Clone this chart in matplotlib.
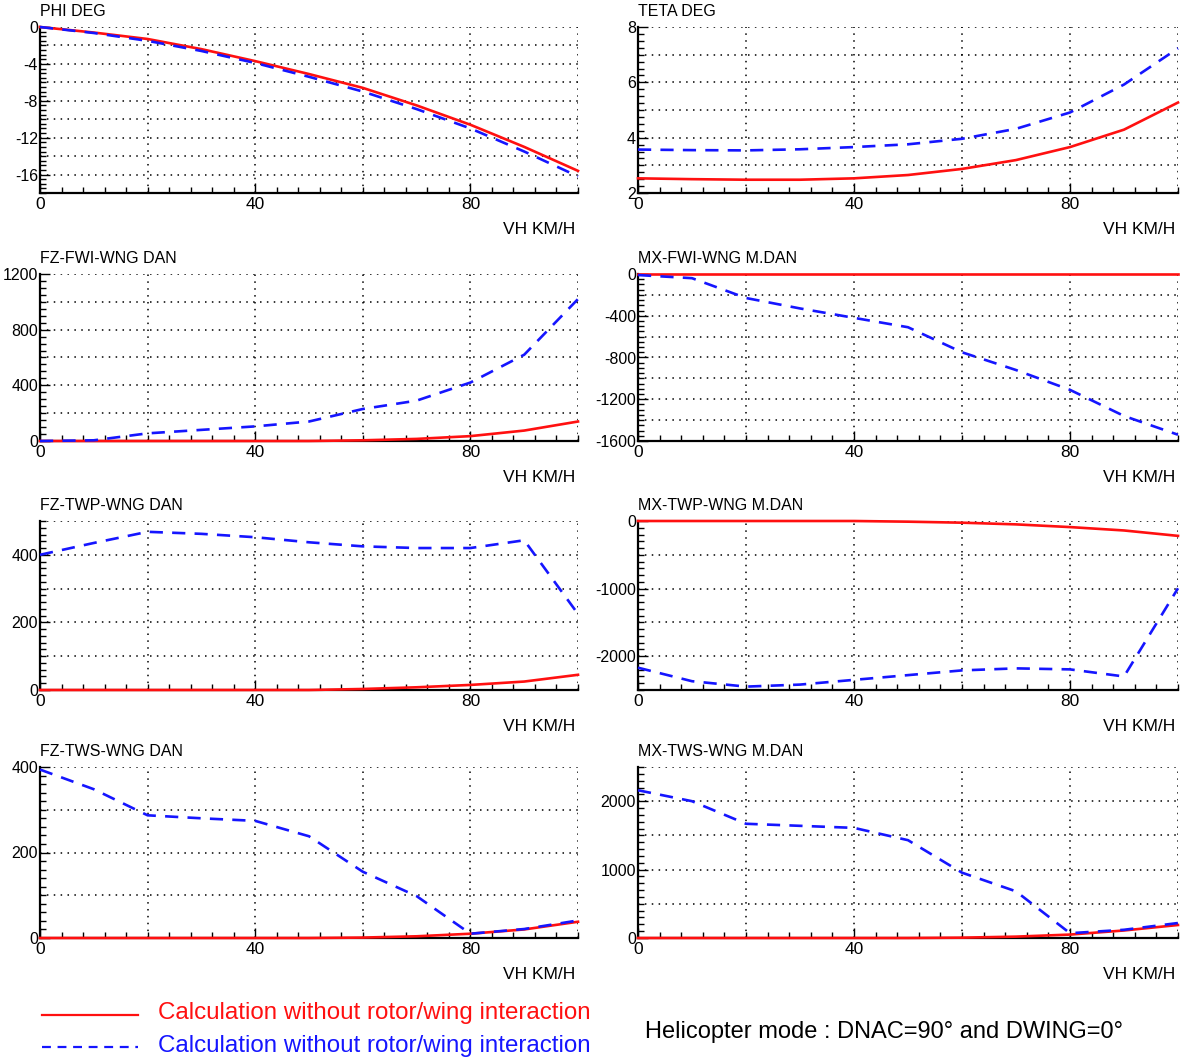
import matplotlib
matplotlib.use('Agg')
import matplotlib.pyplot as plt
from matplotlib.lines import Line2D
import numpy as np

plt.rcParams['font.family'] = ['Liberation Sans', 'DejaVu Sans']
plt.rcParams['axes.unicode_minus'] = False

# helicopter speed, km/h
vh = [0, 10, 20, 30, 40, 50, 60, 70, 80, 90, 100]

# roll / pitch attitude, deg
phi_no = [0, -0.6, -1.3, -2.4, -3.7, -5.1, -6.6, -8.5, -10.6, -13.0, -15.6]
phi_int = [0, -0.65, -1.5, -2.6, -3.9, -5.4, -7.0, -8.9, -11.0, -13.5, -16.2]
teta_no = [2.53, 2.50, 2.48, 2.48, 2.53, 2.65, 2.87, 3.19, 3.66, 4.29, 5.27]
teta_int = [3.57, 3.55, 3.54, 3.58, 3.66, 3.76, 3.96, 4.32, 4.91, 5.92, 7.23]

# front wing
fz_fwi_no = [0, 0, 0, 0, 0, 0, 5, 15, 35, 75, 140]
fz_fwi_int = [0, 5, 55, 80, 105, 140, 230, 290, 420, 620, 1020]
mx_fwi_no = [0, 0, 0, 0, 0, 0, 0, 0, 0, 0, 0]
mx_fwi_int = [-10, -40, -230, -330, -420, -510, -750, -920, -1110, -1360, -1540]

# tilting wing part
fz_twp_no = [0, 0, 0, 0, 0, 0, 3, 8, 15, 25, 45]
fz_twp_int = [400, 435, 468, 462, 452, 437, 425, 420, 420, 443, 225]
mx_twp_no = [0, 0, 0, 0, 0, -10, -25, -50, -90, -140, -220]
mx_twp_int = [-2170, -2370, -2450, -2420, -2350, -2280, -2210, -2180, -2195, -2300, -995]

# tilting wing, starboard side
fz_tws_no = [0, 0, 0, 0, 0, 0, 1, 4, 10, 20, 38]
fz_tws_int = [394, 348, 287, 280, 274, 238, 155, 98, 10, 21, 41]
mx_tws_no = [0, 0, 0, 0, 0, 0, 5, 20, 50, 110, 190]
mx_tws_int = [2160, 2000, 1670, 1640, 1610, 1430, 955, 682, 70, 120, 219]

panels = [
    ('PHI DEG', phi_no, phi_int, (-18, 0), [0, -4, -8, -12, -16], 2, 0.5),
    ('TETA DEG', teta_no, teta_int, (2, 8), [2, 4, 6, 8], 1, 0.25),
    ('FZ-FWI-WNG DAN', fz_fwi_no, fz_fwi_int, (0, 1200), [0, 400, 800, 1200], 200, 50),
    ('MX-FWI-WNG M.DAN', mx_fwi_no, mx_fwi_int, (-1600, 0), [0, -400, -800, -1200, -1600], 200, 50),
    ('FZ-TWP-WNG DAN', fz_twp_no, fz_twp_int, (0, 500), [0, 200, 400], 100, 20),
    ('MX-TWP-WNG M.DAN', mx_twp_no, mx_twp_int, (-2500, 0), [0, -1000, -2000], 500, 100),
    ('FZ-TWS-WNG DAN', fz_tws_no, fz_tws_int, (0, 400), [0, 200, 400], 100, 20),
    ('MX-TWS-WNG M.DAN', mx_tws_no, mx_tws_int, (0, 2500), [0, 1000, 2000], 500, 100),
]

W, H = 1180, 1063
fig = plt.figure(figsize=(W / 100, H / 100), dpi=100)

col_x = [40, 638]
rows = [(27, 193), (274, 441), (521, 690), (767, 938)]
ax_w = [538, 540]

for i, (name, red, blue, ylim, yt, gstep, mstep) in enumerate(panels):
    r, c = divmod(i, 2)
    top, bot = rows[r]
    ax = fig.add_axes([col_x[c] / W, 1 - bot / H, ax_w[c] / W, (bot - top) / H])

    # grid first so curves sit on top
    for gx in range(20, 101, 20):
        ax.axvline(gx, color='black', lw=1.1, ls=(0, (1, 3.5)), zorder=1)
    for gy in np.arange(ylim[0] + gstep, ylim[1] + gstep / 2, gstep):
        ax.axhline(gy, color='black', lw=1.1, ls=(0, (1, 3.5)), zorder=1)

    ax.plot(vh, red, color='#ff1010', lw=1.9, zorder=3, clip_on=False)
    ax.plot(vh, blue, color='#1515ff', lw=1.9, ls=(0, (5, 3.5)), zorder=4, clip_on=False)

    ax.set_xlim(0, 100)
    ax.set_ylim(*ylim)
    ax.set_xticks([0, 40, 80])
    ax.set_xticks(np.arange(0, 101, 4), minor=True)
    ax.set_yticks(yt)
    ax.set_yticklabels([str(v) for v in yt])
    ax.set_yticks(np.arange(ylim[0], ylim[1] + mstep / 2, mstep), minor=True)

    ax.tick_params(which='both', direction='in', color='black', width=1.0)
    ax.tick_params(which='major', length=7, labelsize=12.5, pad=3)
    ax.tick_params(axis='y', which='major', labelsize=11.5, pad=1.5)
    ax.tick_params(which='minor', length=4)

    for s in ['top', 'right']:
        ax.spines[s].set_visible(False)
    for s in ['left', 'bottom']:
        ax.spines[s].set_linewidth(1.6)

    ax.annotate(name, xy=(0, 1), xycoords='axes fraction', xytext=(0, 6),
                textcoords='offset points', ha='left', va='bottom', fontsize=11.5)
    ax.annotate('VH KM/H', xy=(1, 0), xycoords='axes fraction', xytext=(-2, -21),
                textcoords='offset points', ha='right', va='top', fontsize=12.5)

# legend block
fig.add_artist(Line2D([42 / W, 138 / W], [1 - 1015 / H] * 2, transform=fig.transFigure,
                      color='#ff1010', lw=1.6))
fig.add_artist(Line2D([42 / W, 138 / W], [1 - 1047 / H] * 2, transform=fig.transFigure,
                      color='#1515ff', lw=1.6, ls=(0, (4, 3))))
fig.text(158 / W, 1 - 1013 / H, 'Calculation without rotor/wing interaction',
         color='#ff1010', fontsize=17.4, ha='left', va='center')
fig.text(158 / W, 1 - 1046 / H, 'Calculation without rotor/wing interaction',
         color='#1515ff', fontsize=17.4, ha='left', va='center')
fig.text(645 / W, 1 - 1032 / H, 'Helicopter mode : DNAC=90° and DWING=0°',
         color='black', fontsize=17, ha='left', va='center')

plt.savefig('out.png', dpi=100)
